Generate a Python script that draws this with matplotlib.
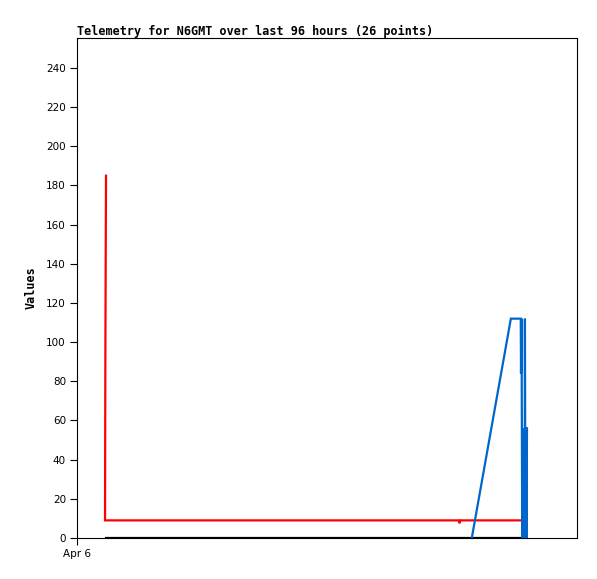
import matplotlib
matplotlib.use("Agg")
import matplotlib.pyplot as plt

# time in hours since Apr 6 00:00
red_t = [5.57, 5.45, 5.38, 73.3, 73.45, 73.6, 85.4]
red_v = [185, 97, 9, 9, 7.5, 9, 9]

blue_t = [75.8, 83.3, 85.2, 85.25, 85.35, 85.45, 85.55, 85.65, 85.75, 85.85,
          85.95, 86.0, 86.1, 86.2, 86.3, 86.4]
blue_v = [0, 112, 112, 84, 112, 28, 0, 56, 0, 56, 0, 112, 0, 56, 0, 56]

black_t = [5.4, 86.4]
black_v = [0, 0]

yticks = list(range(0, 241, 20))
xtick_pos = [0]
xtick_labels = ["Apr 6"]

fig = plt.figure(figsize=(5.97, 5.79), dpi=100)
ax = fig.add_axes([77/597, 41/579, 500/597, 500/579])

ax.plot(black_t, black_v, color="black", lw=1.6, zorder=2, solid_capstyle="butt")
ax.plot(red_t, red_v, color="#ff0000", lw=1.6, zorder=3, solid_joinstyle="miter")
ax.plot(blue_t, blue_v, color="#0066cc", lw=1.6, zorder=4, solid_joinstyle="miter")

ax.set_xlim(0, 96)
ax.set_ylim(0, 255.3)
ax.set_yticks(yticks)
ax.set_yticklabels([str(v) for v in yticks], fontsize=7.5, family="DejaVu Sans")
ax.set_xticks(xtick_pos)
ax.set_xticklabels(xtick_labels, fontsize=7.5, family="DejaVu Sans")
ax.tick_params(direction="out", length=5, width=0.8, pad=3)
for s in ax.spines.values():
    s.set_linewidth(0.8)

ax.set_ylabel("Values", fontsize=8.5, fontweight="bold", family="DejaVu Sans Mono", labelpad=6)
ax.set_title("Telemetry for N6GMT over last 96 hours (26 points)", fontsize=8.5,
             fontweight="bold", family="DejaVu Sans Mono", loc="left", pad=2)

fig.savefig("out.png", dpi=100, facecolor="white")
